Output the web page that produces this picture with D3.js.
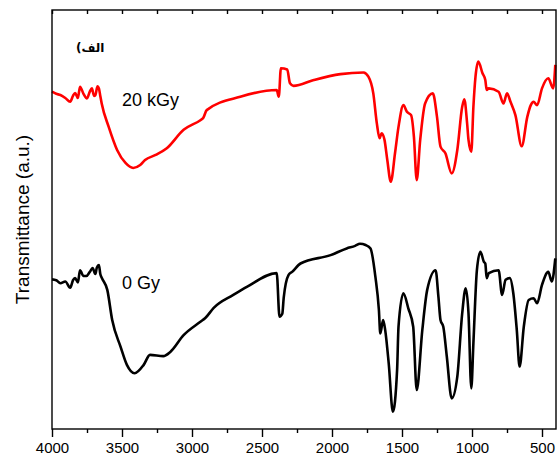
<!DOCTYPE html>
<html>
<head>
<meta charset="utf-8">
<script src="https://cdn.jsdelivr.net/npm/d3@7"></script>
<style>
  body { margin: 0; background: #fff; }
  svg { display: block; }
  .tick text { font-family: "Liberation Sans", Arial, sans-serif; font-size: 15px; fill: #000; }
  .lbl { font-family: "Liberation Sans", Arial, sans-serif; fill: #000; }
</style>
</head>
<body>
<script>
// wavenumber (cm-1) for each trace
const wave0 = [4000, 3970, 3940, 3905, 3870, 3850, 3835, 3815, 3800, 3775, 3755, 3730, 3710, 3690, 3680, 3665, 3655, 3643, 3605, 3570, 3510, 3465, 3410, 3345, 3300, 3205, 3155, 3060, 2940, 2905, 2845, 2705, 2605, 2395, 2375, 2355, 2345, 2310, 2285, 2225, 2010, 1895, 1835, 1800, 1760, 1725, 1690, 1665, 1655, 1635, 1620, 1595, 1565, 1535, 1525, 1490, 1455, 1420, 1395, 1355, 1320, 1260, 1240, 1225, 1205, 1180, 1145, 1105, 1070, 1045, 1025, 1005, 990, 965, 940, 915, 905, 895, 880, 810, 785, 760, 730, 705, 680, 660, 630, 595, 560, 535, 500, 455, 430, 405];
// transmittance (a.u.), 0 Gy
const trans0 = [35.7, 35.5, 34.8, 35.2, 33.7, 35.5, 36.0, 35.0, 37.9, 36.5, 36.5, 37.5, 38.4, 37.0, 38.5, 39.1, 37.0, 36.0, 33.2, 26.0, 19.6, 15.3, 13.3, 15.3, 17.7, 17.4, 18.4, 22.4, 25.6, 26.5, 28.9, 32.0, 34.0, 37.2, 26.8, 27.5, 31.3, 36.8, 37.5, 39.5, 41.5, 43.1, 43.7, 44.2, 43.9, 43.1, 36.3, 28.4, 22.8, 26.0, 23.6, 15.7, 4.1, 14.1, 24.4, 32.4, 28.8, 24.4, 9.3, 23.6, 33.2, 37.9, 31.6, 26.0, 24.4, 17.3, 7.3, 12.5, 27.6, 33.6, 27.6, 9.7, 20.5, 37.9, 42.3, 39.9, 39.5, 36.0, 37.2, 37.9, 32.0, 35.6, 36.0, 32.4, 23.6, 14.9, 24.4, 30.8, 31.2, 30.0, 34.4, 37.5, 35.2, 40.7];

const wave20 = [4000, 3970, 3940, 3905, 3870, 3850, 3835, 3815, 3800, 3775, 3750, 3730, 3715, 3700, 3690, 3675, 3665, 3655, 3645, 3595, 3535, 3475, 3420, 3370, 3335, 3260, 3180, 3060, 2940, 2920, 2895, 2655, 2395, 2380, 2365, 2320, 2300, 2275, 2130, 1940, 1775, 1740, 1705, 1680, 1660, 1645, 1625, 1605, 1580, 1550, 1525, 1490, 1465, 1435, 1415, 1395, 1370, 1335, 1280, 1250, 1225, 1190, 1145, 1105, 1070, 1055, 1035, 1025, 1005, 990, 975, 955, 925, 905, 895, 880, 810, 775, 750, 725, 690, 645, 605, 580, 560, 535, 500, 455, 420, 405];
// transmittance (a.u.), 20 kGy
const trans20 = [80.5, 80.0, 79.7, 79.0, 78.1, 79.5, 80.2, 79.0, 81.7, 80.0, 78.9, 80.5, 81.3, 79.5, 79.7, 81.8, 81.3, 79.5, 77.7, 72.1, 66.6, 63.5, 62.3, 63.0, 64.2, 65.4, 67.0, 71.4, 73.7, 74.2, 76.1, 79.3, 80.9, 79.3, 86.1, 85.8, 82.5, 81.9, 83.3, 84.7, 85.1, 84.1, 80.1, 73.0, 69.4, 70.6, 69.0, 64.2, 59.0, 65.8, 72.1, 77.3, 75.7, 74.9, 69.8, 59.4, 69.0, 77.7, 80.1, 74.5, 67.4, 65.8, 61.0, 66.6, 76.9, 78.7, 73.0, 69.0, 66.2, 76.9, 84.1, 87.7, 84.9, 83.3, 80.9, 81.3, 80.5, 77.7, 80.1, 78.1, 74.9, 67.5, 74.5, 77.3, 78.1, 77.3, 81.3, 83.7, 81.3, 86.9];

const majorTicks = [4000, 3500, 3000, 2500, 2000, 1500, 1000, 500];
const minorTicks = [3750, 3250, 2750, 2250, 1750, 1250, 750];

const width = 558, height = 459;
const margin = {top: 10, right: 2, bottom: 30, left: 52};

const svg = d3.select("body").append("svg")
  .attr("width", width)
  .attr("height", height);

const x = d3.scaleLinear().domain([4000, 400]).range([margin.left, width - margin.right]);
const y = d3.scaleLinear().domain([0, 100]).range([height - margin.bottom, margin.top]);

const line = d3.line().x(d => x(d[0])).y(d => y(d[1])).curve(d3.curveMonotoneX);

// spectra
svg.append("path")
  .datum(d3.zip(wave0, trans0))
  .attr("d", line)
  .attr("fill", "none")
  .attr("stroke", "#000")
  .attr("stroke-width", 2.6)
  .attr("stroke-linejoin", "round");

svg.append("path")
  .datum(d3.zip(wave20, trans20))
  .attr("d", line)
  .attr("fill", "none")
  .attr("stroke", "#ff0000")
  .attr("stroke-width", 2.6)
  .attr("stroke-linejoin", "round");

// frame
svg.append("rect")
  .attr("x", margin.left).attr("y", margin.top)
  .attr("width", width - margin.left - margin.right)
  .attr("height", height - margin.top - margin.bottom)
  .attr("fill", "none").attr("stroke", "#000").attr("stroke-width", 1.4);

// bottom axis
const bottomY = height - margin.bottom;
const xAxis = svg.append("g")
  .attr("transform", `translate(0,${bottomY})`)
  .call(d3.axisBottom(x).tickValues(majorTicks).tickSize(8).tickPadding(5).tickFormat(d3.format("d")));
xAxis.select(".domain").remove();
xAxis.selectAll(".tick line").attr("stroke-width", 1.4);

const xMinor = svg.append("g")
  .attr("transform", `translate(0,${bottomY})`)
  .call(d3.axisBottom(x).tickValues(minorTicks).tickSize(4).tickFormat(""));
xMinor.select(".domain").remove();
xMinor.selectAll(".tick line").attr("stroke-width", 1.4);

// top ticks, pointing inward
const topAxis = svg.append("g")
  .attr("transform", `translate(0,${margin.top})`)
  .call(d3.axisBottom(x).tickValues(majorTicks.concat(minorTicks)).tickSize(4).tickFormat(""));
topAxis.select(".domain").remove();
topAxis.selectAll(".tick line").attr("stroke-width", 1.4);

// y label
svg.append("text")
  .attr("class", "lbl")
  .attr("transform", `translate(29,${(margin.top + bottomY) / 2}) rotate(-90)`)
  .attr("text-anchor", "middle")
  .style("font-size", "19px")
  .text("Transmittance (a.u.)");

// trace labels
svg.append("text").attr("class", "lbl")
  .attr("x", 122).attr("y", 106)
  .style("font-size", "18px")
  .text("20 kGy");

svg.append("text").attr("class", "lbl")
  .attr("x", 122).attr("y", 289)
  .style("font-size", "18px")
  .text("0 Gy");

svg.append("text")
  .attr("x", 76).attr("y", 52)
  .style("font-family", "DejaVu Sans, sans-serif")
  .style("font-size", "12px")
  .style("font-weight", "bold")
  .text("(الف");
</script>
</body>
</html>
